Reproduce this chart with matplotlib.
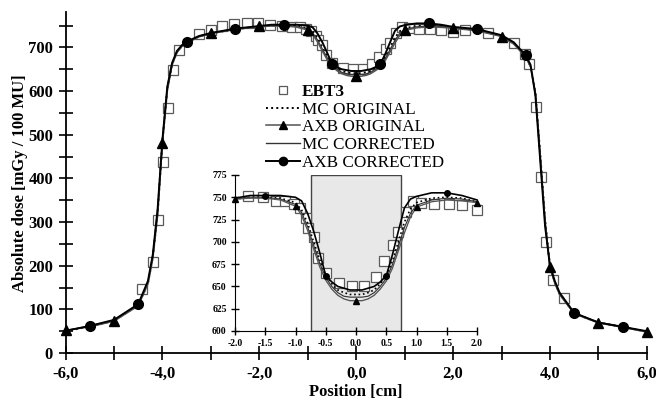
import numpy as np
import matplotlib
matplotlib.use('Agg')
import matplotlib.pyplot as plt
from matplotlib.ticker import MultipleLocator, FuncFormatter
from matplotlib.patches import Rectangle

plt.rcParams['font.family'] = ['Liberation Serif', 'DejaVu Serif']

# Film measurement (EBT3)
x_ebt = [-4.43, -4.2, -4.09, -3.99, -3.88, -3.79, -3.65, -3.25, -3.0, -2.77, -2.52,
         -2.26, -2.02, -1.78, -1.53, -1.33, -1.17, -1.03, -0.93, -0.83, -0.79, -0.7,
         -0.62, -0.5, -0.28, -0.06, 0.14, 0.33, 0.47, 0.61, 0.69, 0.83, 0.94, 1.08,
         1.29, 1.53, 1.75, 2.0, 2.25, 2.73, 3.25, 3.49, 3.57, 3.72, 3.82, 3.92, 4.07, 4.28]
y_ebt = [146, 208, 304, 437, 561, 648, 695, 731, 741, 748, 753,
         756, 755, 751, 750, 746, 746, 743, 738, 727, 716, 705,
         682, 665, 654, 650, 651, 661, 678, 697, 711, 733, 746, 744,
         743, 743, 741, 736, 741, 732, 709, 686, 662, 563, 403, 254, 167, 126]

# Calculated profiles
x_calc = [-6.0, -5.5, -5.0, -4.5, -4.3, -4.2, -4.1, -4.0, -3.9, -3.8, -3.7, -3.6, -3.5,
          -3.25, -3.0, -2.5, -2.0, -1.75, -1.5, -1.25, -1.0, -0.9, -0.8, -0.7, -0.6,
          -0.5, -0.4, -0.3, -0.2, -0.1, 0.0, 0.1, 0.2, 0.3, 0.4, 0.5, 0.6, 0.7, 0.8,
          0.9, 1.0, 1.25, 1.5, 1.75, 2.0, 2.5, 3.0, 3.25, 3.5, 3.6, 3.7, 3.8, 3.9,
          4.0, 4.1, 4.2, 4.5, 5.0, 5.5, 6.0]
mc_orig = [50, 61, 74, 110, 160, 220, 320, 486, 605, 662, 690, 703, 711,
           725, 732, 742, 748, 750, 750, 749, 744, 736, 721, 700, 680,
           663, 653, 646, 643, 641, 641, 641, 643, 646, 653, 662, 678, 700, 722,
           737, 744, 749, 750, 749, 745, 740, 726, 710, 680, 657, 597, 455, 305,
           200, 162, 136, 91, 70, 60, 49]
axb_orig = [52, 60, 73, 108, 158, 215, 315, 482, 600, 660, 688, 702, 710,
            724, 732, 741, 748, 749, 749, 747, 740, 730, 713, 692, 672,
            657, 647, 640, 636, 634, 634, 634, 636, 640, 647, 656, 670, 690, 710,
            728, 739, 745, 747, 746, 744, 738, 725, 708, 678, 655, 595, 450, 300,
            197, 160, 134, 90, 69, 59, 48]
mc_corr = [51, 62, 75, 111, 162, 222, 325, 488, 607, 663, 691, 704, 712,
           725, 733, 742, 748, 750, 750, 748, 742, 733, 717, 696, 676,
           660, 650, 643, 639, 638, 638, 638, 639, 643, 650, 659, 674, 695, 716,
           732, 741, 747, 749, 748, 745, 739, 726, 709, 679, 656, 596, 452, 302,
           198, 161, 135, 91, 70, 60, 49]
axb_corr = [51, 62, 76, 112, 165, 225, 330, 490, 610, 665, 692, 705, 713,
            726, 733, 743, 749, 752, 752, 752, 750, 746, 732, 712, 688,
            662, 655, 650, 648, 646, 646, 646, 648, 650, 655, 662, 685, 712, 738,
            748, 751, 755, 755, 752, 747, 742, 728, 712, 682, 660, 590, 440, 290,
            200, 165, 138, 92, 70, 60, 50]

xc = np.array(x_calc)
tri_idx = [i for i, x in enumerate(x_calc) if float(x).is_integer()]
circ_idx = [i for i, x in enumerate(x_calc) if float(2 * x).is_integer() and not float(x).is_integer()]

fig = plt.figure(figsize=(6.56, 4.03), dpi=100)
ax = fig.add_axes([0.1, 0.124, 0.886, 0.845])

def draw(a, xs, sel, ms_sq, ms_tri, ms_circ, lw):
    ex = np.array(x_ebt)
    ey = np.array(y_ebt)
    m = (ex >= xs[0]) & (ex <= xs[1])
    a.plot(ex[m], ey[m], 's', ms=ms_sq, mfc='white', mec='#5a5a5a', mew=0.9,
           label='EBT3', zorder=2, clip_on=False)
    a.plot(xc[sel], np.array(mc_orig)[sel], ':', color='black', lw=lw,
           label='MC ORIGINAL', zorder=3, clip_on=False)
    ti = [i for i in tri_idx if sel[i]]
    ci = [i for i in circ_idx if sel[i]]
    idx = list(np.where(sel)[0])
    a.plot(xc[sel], np.array(axb_orig)[sel], '-', color='#555555', lw=lw * 0.8,
           marker='^', ms=ms_tri, mfc='black', mec='black',
           markevery=[idx.index(i) for i in ti],
           label='AXB ORIGINAL', zorder=4, clip_on=False)
    a.plot(xc[sel], np.array(mc_corr)[sel], '-', color='#333333', lw=lw * 0.7,
           label='MC CORRECTED', zorder=3, clip_on=False)
    a.plot(xc[sel], np.array(axb_corr)[sel], '-', color='black', lw=lw,
           marker='o', ms=ms_circ, mfc='black', mec='black',
           markevery=[idx.index(i) for i in ci],
           label='AXB CORRECTED', zorder=5, clip_on=False)

draw(ax, (-6, 6), np.ones(len(x_calc), dtype=bool), 7, 7, 7, 1.4)

ax.set_xlim(-6, 6)
ax.set_ylim(0, 780)
for s in ['top', 'right']:
    ax.spines[s].set_visible(False)
for s in ['left', 'bottom']:
    ax.spines[s].set_linewidth(1.3)
ax.xaxis.set_major_locator(MultipleLocator(2))
ax.xaxis.set_minor_locator(MultipleLocator(1))
ax.yaxis.set_major_locator(MultipleLocator(100))
ax.yaxis.set_minor_locator(MultipleLocator(50))
ax.xaxis.set_major_formatter(FuncFormatter(lambda v, p: f'{v:.1f}'.replace('.', ',')))
ax.tick_params(which='both', direction='inout', length=10, width=1.2)
ax.tick_params(axis='both', labelsize=12, pad=4)
for lab in ax.get_xticklabels() + ax.get_yticklabels():
    lab.set_fontweight('bold')
ax.set_xlabel('Position [cm]', fontsize=12, fontweight='bold', labelpad=2)
ax.set_ylabel('Absolute dose [mGy / 100 MU]', fontsize=12, fontweight='bold')
ax.yaxis.set_label_coords(-0.065, 0.5)

leg = ax.legend(loc='upper left', bbox_to_anchor=(266 / 656, 1 - 84 / 403),
                bbox_transform=fig.transFigure, frameon=False, fontsize=12.3,
                handlelength=2.0, handletextpad=0.08, labelspacing=0.1,
                borderpad=0, borderaxespad=0, markerscale=0.85)
leg.get_texts()[0].set_fontweight('bold')

# Inset zoom of the central region
axin = fig.add_axes([235 / 656, 1 - 331 / 403, 242 / 656, 156 / 403])
axin.add_patch(Rectangle((-0.75, 600), 1.5, 175, facecolor='#e8e8e8',
                         edgecolor='#444444', lw=1.0, zorder=0))
sel = (xc >= -2) & (xc <= 2)
draw(axin, (-2, 2), sel, 6.5, 4.5, 4, 1.2)
axin.set_xlim(-2, 2)
axin.set_ylim(600, 775)
axin.patch.set_alpha(0)
for s in ['top', 'right']:
    axin.spines[s].set_visible(False)
axin.xaxis.set_major_locator(MultipleLocator(0.5))
axin.yaxis.set_major_locator(MultipleLocator(25))
axin.xaxis.set_major_formatter(FuncFormatter(lambda v, p: f'{v:.1f}'))
axin.tick_params(which='both', direction='inout', length=6, width=1.0, labelsize=7, pad=3)
for lab in axin.get_xticklabels() + axin.get_yticklabels():
    lab.set_fontweight('bold')

plt.savefig('out.png', dpi=100)
